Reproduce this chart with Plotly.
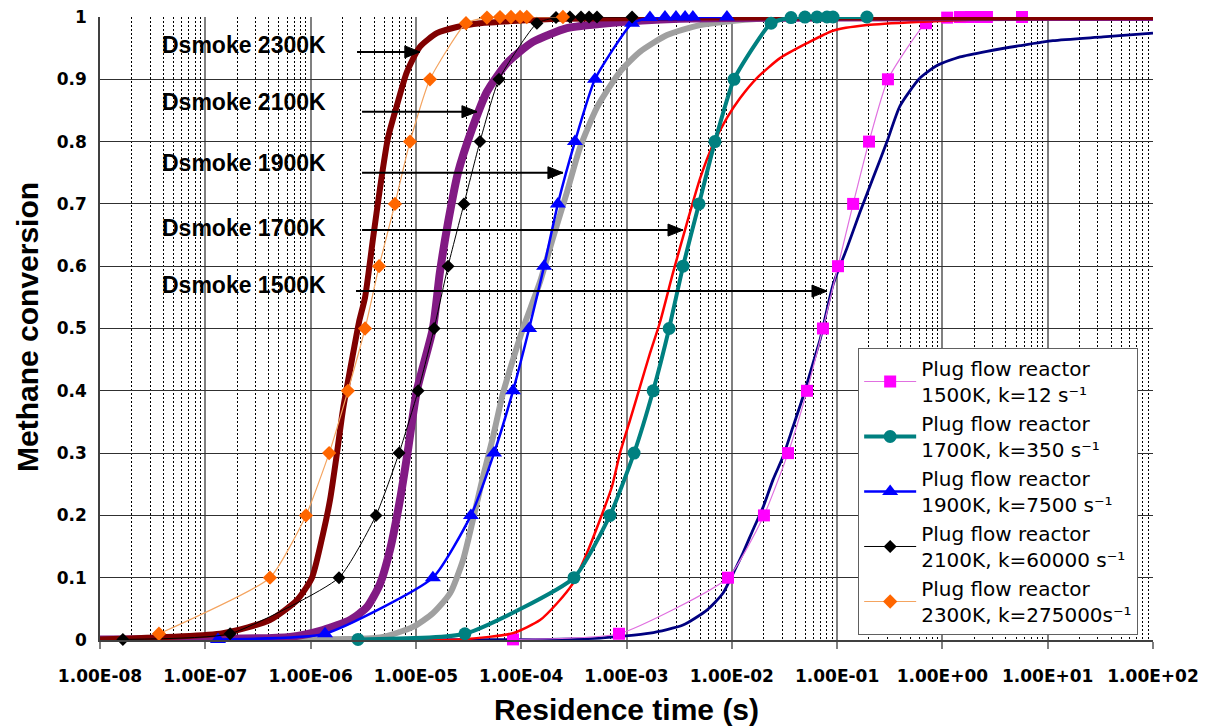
import plotly.graph_objects as go

# ---------------- data ----------------
# Dsmoke model curves: residence time (s) and methane conversion
t_dsmoke_1500 = [1e-8, 9.76e-5, 5.60e-4, 1.67e-3, 3.44e-3, 5.80e-3, 8.24e-3, 1.03e-2, 1.28e-2, 1.59e-2,
                 1.98e-2, 2.46e-2, 3.06e-2, 3.81e-2, 4.74e-2, 5.90e-2, 6.89e-2, 9.14e-2, 0.124, 0.165,
                 0.219, 0.298, 0.395, 0.612, 0.889, 1.47, 2.65, 5.46, 11.2, 33.5, 100]
x_dsmoke_1500 = [0.0, 0.0005, 0.003, 0.011, 0.024, 0.048, 0.075, 0.107, 0.14, 0.177,
                 0.213, 0.257, 0.294, 0.342, 0.39, 0.444, 0.482, 0.57, 0.629, 0.687,
                 0.741, 0.80, 0.857, 0.902, 0.922, 0.936, 0.945, 0.954, 0.962, 0.968, 0.974]

t_dsmoke_1700 = [1e-8, 2.62e-5, 8.36e-5, 1.51e-4, 2.19e-4, 3.10e-4, 4.22e-4, 5.60e-4, 7.27e-4, 8.67e-4,
                 1.08e-3, 1.34e-3, 1.67e-3, 2.08e-3, 2.77e-3, 3.76e-3, 5.0e-3, 6.62e-3, 8.99e-3, 1.20e-2,
                 1.73e-2, 2.87e-2, 5.18e-2, 9.14e-2, 0.192, 0.574, 5.46, 100]
x_dsmoke_1700 = [0.0, 0.001, 0.011, 0.032, 0.059, 0.091, 0.14, 0.193, 0.246, 0.30,
                 0.353, 0.406, 0.46, 0.51, 0.59, 0.67, 0.741, 0.795, 0.838, 0.87,
                 0.902, 0.934, 0.958, 0.978, 0.987, 0.992, 0.998, 1.0]

t_dsmoke_1900 = [1e-8, 7.9e-7, 4.56e-6, 9.38e-6, 1.45e-5, 2.11e-5, 2.80e-5, 3.48e-5, 4.34e-5, 5.40e-5,
                 6.71e-5, 8.36e-5, 1.04e-4, 1.51e-4, 2.00e-4, 2.72e-4, 3.61e-4, 5.25e-4, 8.67e-4, 1.34e-3,
                 2.43e-3, 5.0e-3, 1.85e-2, 100]
x_dsmoke_1900 = [0.0, 0.001, 0.004, 0.021, 0.043, 0.075, 0.128, 0.193, 0.262, 0.326,
                 0.396, 0.45, 0.50, 0.575, 0.645, 0.719, 0.79, 0.855, 0.912, 0.944,
                 0.971, 0.987, 0.997, 1.0]

t_dsmoke_2100 = [1e-8, 6.37e-7, 1.31e-6, 2.37e-6, 3.44e-6, 4.56e-6, 5.68e-6, 7.06e-6, 8.41e-6, 1.02e-5,
                 1.45e-5, 1.69e-5, 2.02e-5, 2.51e-5, 3.41e-5, 4.73e-5, 7.33e-5, 1.29e-4, 2.72e-4, 6.53e-4,
                 3.22e-3, 100]
x_dsmoke_2100 = [0.001, 0.005, 0.016, 0.032, 0.053, 0.09, 0.145, 0.225, 0.305, 0.40,
                 0.50, 0.59, 0.67, 0.75, 0.82, 0.88, 0.926, 0.96, 0.982, 0.99,
                 0.997, 1.0]

t_dsmoke_2300 = [1e-8, 1.47e-7, 4.11e-7, 7.43e-7, 1.03e-6, 1.31e-6, 1.53e-6, 1.78e-6, 2.03e-6, 2.47e-6,
                 2.88e-6, 3.29e-6, 3.92e-6, 4.56e-6, 5.43e-6, 6.62e-6, 8.22e-6, 1.09e-5, 1.58e-5, 2.45e-5,
                 4.06e-5, 2.33e-4, 5.0e-3, 100]
x_dsmoke_2300 = [0.001, 0.011, 0.032, 0.064, 0.10, 0.17, 0.225, 0.30, 0.37, 0.45,
                 0.51, 0.55, 0.645, 0.725, 0.806, 0.859, 0.912, 0.952, 0.974, 0.984,
                 0.99, 0.997, 0.999, 1.0]

# Plug flow reactor points: conversion levels and residence times
conv_pfr = [0.001, 0.01, 0.1, 0.2, 0.3, 0.4, 0.5, 0.6, 0.7, 0.8, 0.9,
            0.99, 0.999, 0.9999, 0.99999, 0.999999, 0.9999999, 1.0]
t_pfr_1500 = [8.36e-5, 8.49e-4, 9.20e-3, 2.02e-2, 3.42e-2, 5.18e-2, 7.34e-2, 0.102, 0.142, 0.201, 0.304,
              0.698, 1.11, 1.47, 1.87, 2.27, 2.65, 5.70]
t_pfr_1700 = [2.82e-6, 2.92e-5, 3.17e-4, 6.97e-4, 1.18e-3, 1.79e-3, 2.54e-3, 3.44e-3, 4.88e-3, 6.92e-3, 1.05e-2,
              2.36e-2, 3.65e-2, 4.95e-2, 6.44e-2, 8.02e-2, 9.14e-2, 0.192]
t_pfr_1900 = [1.32e-7, 1.37e-6, 1.45e-5, 3.33e-5, 5.52e-5, 8.36e-5, 1.19e-4, 1.65e-4, 2.23e-4, 3.24e-4, 5.02e-4,
              1.13e-3, 1.67e-3, 2.32e-3, 2.95e-3, 3.60e-3, 4.27e-3, 8.99e-3]
t_pfr_2100 = [1.65e-8, 1.72e-7, 1.86e-6, 4.18e-6, 6.92e-6, 1.05e-5, 1.49e-5, 2.02e-5, 2.86e-5, 4.06e-5, 6.15e-5,
              1.41e-4, 2.14e-4, 2.90e-4, 3.70e-4, 4.41e-4, 5.25e-4, 1.13e-3]
conv_pfr_2300 = conv_pfr[1:]
t_pfr_2300 = [3.63e-8, 4.11e-7, 9.04e-7, 1.50e-6, 2.26e-6, 3.29e-6, 4.47e-6, 6.32e-6, 8.79e-6, 1.36e-5,
              2.99e-5, 4.73e-5, 6.29e-5, 8.0e-5, 9.76e-5, 1.13e-4, 2.49e-4]

pfr_names = ["Plug flow reactor<br>1500K, k=12 s\u207b\u00b9",
             "Plug flow reactor<br>1700K, k=350 s\u207b\u00b9",
             "Plug flow reactor<br>1900K, k=7500 s\u207b\u00b9",
             "Plug flow reactor<br>2100K, k=60000 s\u207b\u00b9",
             "Plug flow reactor<br>2300K, k=275000s\u207b\u00b9"]

dsmoke_labels = ["Dsmoke 2300K", "Dsmoke 2100K", "Dsmoke 1900K", "Dsmoke 1700K", "Dsmoke 1500K"]
label_y = [0.955, 0.8636, 0.7657, 0.661, 0.570]
arrow_y = [0.944, 0.848, 0.750, 0.658, 0.560]
arrow_tail_t = [2.76e-6, 3.08e-6, 3.08e-6, 3.08e-6, 2.70e-6]
arrow_head_t = [1.09e-5, 3.80e-5, 2.49e-4, 3.44e-3, 8.02e-2]

x_tickvals = [1e-8, 1e-7, 1e-6, 1e-5, 1e-4, 1e-3, 1e-2, 1e-1, 1e0, 1e1, 1e2]
x_ticktext = ["1.00E-08", "1.00E-07", "1.00E-06", "1.00E-05", "1.00E-04", "1.00E-03",
              "1.00E-02", "1.00E-01", "1.00E+00", "1.00E+01", "1.00E+02"]
y_tickvals = [0, 0.1, 0.2, 0.3, 0.4, 0.5, 0.6, 0.7, 0.8, 0.9, 1.0]
y_ticktext = ["0", "0.1", "0.2", "0.3", "0.4", "0.5", "0.6", "0.7", "0.8", "0.9", "1"]

# ---------------- figure ----------------
fig = go.Figure()

def dsmoke(t, x, color, width):
    fig.add_trace(go.Scatter(x=t, y=x, mode="lines", showlegend=False, hoverinfo="skip",
                             line=dict(color=color, width=width, shape="spline", smoothing=0.6)))

def pfr(t, x, name, rank, lcolor, lwidth, mcolor, symbol, msize):
    fig.add_trace(go.Scatter(x=t, y=x, mode="lines+markers", name=name, legendrank=rank,
                             cliponaxis=False,
                             line=dict(color=lcolor, width=lwidth, shape="spline", smoothing=0.5),
                             marker=dict(color=mcolor, symbol=symbol, size=msize, line=dict(width=0))))

dsmoke(t_dsmoke_1500, x_dsmoke_1500, "#000080", 2.8)
pfr(t_pfr_1500, conv_pfr, pfr_names[0], 1, "#E070E0", 1.2, "#FF00FF", "square", 12)
dsmoke(t_dsmoke_1700, x_dsmoke_1700, "#FF0000", 2.5)
dsmoke(t_dsmoke_1900, x_dsmoke_1900, "#A0A0A0", 6)
dsmoke(t_dsmoke_2100, x_dsmoke_2100, "#821A84", 8)
dsmoke(t_dsmoke_2300, x_dsmoke_2300, "#800000", 6)
pfr(t_pfr_1700, conv_pfr, pfr_names[1], 2, "#008080", 4, "#008080", "circle", 13)
pfr(t_pfr_1900, conv_pfr, pfr_names[2], 3, "#0000FF", 2.5, "#0000FF", "triangle-up", 14)
pfr(t_pfr_2100, conv_pfr, pfr_names[3], 4, "#000000", 1, "#000000", "diamond", 10)
pfr(t_pfr_2300, conv_pfr_2300, pfr_names[4], 5, "#F4A460", 1.2, "#FF6600", "diamond", 11)

# Dsmoke labels
for lab, ly in zip(dsmoke_labels, label_y):
    fig.add_annotation(x=-7.43, y=ly, xref="x", yref="y", text=lab, showarrow=False,
                       xanchor="left", yanchor="middle",
                       font=dict(family="Liberation Sans, Arial", size=23, color="black", weight="bold"))

# arrows (line + filled head) pointing from labels to curves
for ay, tt, th in zip(arrow_y, arrow_tail_t, arrow_head_t):
    fig.add_shape(type="line", xref="x", yref="y", x0=tt, x1=th, y0=ay, y1=ay,
                  line=dict(color="black", width=2), layer="above")
    fig.add_shape(type="path", xref="x", yref="y", xsizemode="pixel", ysizemode="pixel",
                  xanchor=th, yanchor=ay, path="M -15 -6 L 0 0 L -15 6 Z",
                  fillcolor="black", line=dict(color="black", width=1), layer="above")

tick_font = dict(family="DejaVu Sans", size=17, color="black", weight="bold")
title_font = dict(family="Liberation Sans, Arial", size=30, color="black", weight="bold")

# y-axis title placed as a rotated annotation in the left margin
fig.add_annotation(xref="paper", yref="paper", x=-0.0690, y=0.503, text="Methane conversion",
                   textangle=-90, showarrow=False, xanchor="center", yanchor="middle",
                   font=title_font)

fig.update_xaxes(type="log", range=[-8, 2], tickvals=x_tickvals, ticktext=x_ticktext,
                 tickfont=tick_font, ticks="outside", ticklen=7, tickcolor="#808080", tickwidth=1.5,
                 ticklabelstandoff=13, automargin=False, ticklabeloverflow="allow",
                 showline=True, linecolor="#404040", linewidth=1.5,
                 showgrid=True, gridcolor="#808080", gridwidth=1.5, zeroline=False,
                 minor=dict(dtick="D1", showgrid=True, gridcolor="#000000", gridwidth=1,
                            griddash="2px,2px", ticks=""),
                 title=dict(text="Residence time (s)", font=title_font, standoff=22))
fig.update_yaxes(range=[0, 1], tickvals=y_tickvals, ticktext=y_ticktext, tickfont=tick_font,
                 ticks="outside", ticklen=8, tickcolor="rgba(0,0,0,0)",
                 showline=True, linecolor="#404040", linewidth=1.5, automargin=False,
                 ticklabeloverflow="allow",
                 showgrid=True, gridcolor="#303030", gridwidth=1.3, zeroline=False)

# the page body has an 8px margin: size and margins compensate so the plot area lands at 100..1153 x 17..640
fig.update_layout(
    width=1200, height=718,
    margin=dict(l=92, r=55, t=9, b=86),
    paper_bgcolor="white", plot_bgcolor="white",
    font=dict(family="Liberation Sans, Arial", color="black"),
    legend=dict(x=0.72, y=0.4687, xanchor="left", yanchor="top",
                bgcolor="white", bordercolor="#606060", borderwidth=1,
                font=dict(family="DejaVu Sans", size=20, color="black"),
                itemwidth=52, tracegroupgap=0),
    showlegend=True,
)

fig.write_html("out.html")
